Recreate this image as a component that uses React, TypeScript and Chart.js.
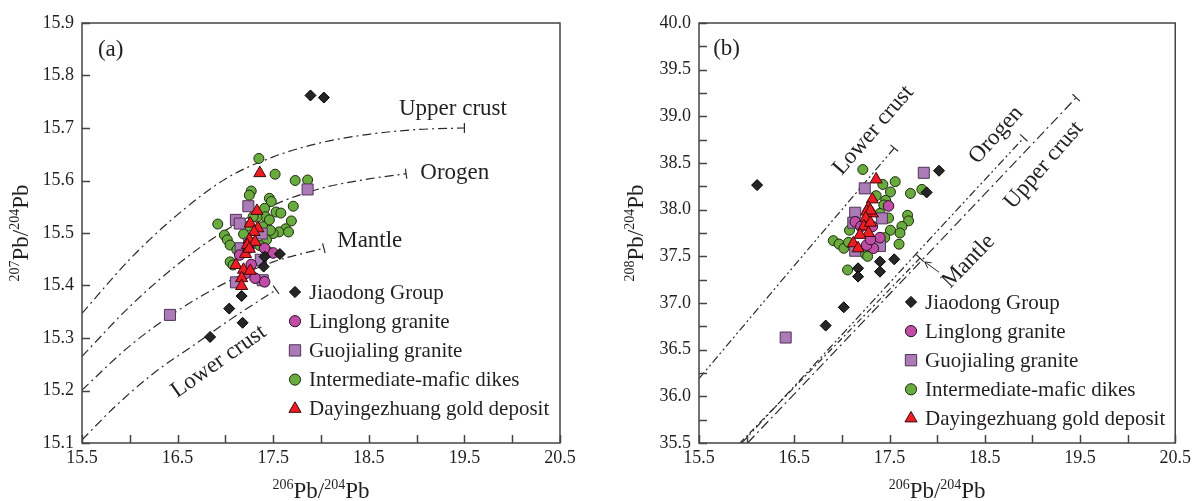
import React, { useEffect, useRef } from 'react';
import { Chart, registerables } from 'chart.js';

Chart.register(...registerables);

const FONT = '"Liberation Serif", "Times New Roman", Times, serif';
const INK = '#231f20';
const AXIS = '#444444';

// ---------------- Panel (a): 207Pb/204Pb vs 206Pb/204Pb ----------------
const jiaodongA = [[17.89,15.762],[18.03,15.758],[17.57,15.46],[17.40,15.436],[17.41,15.455],[17.17,15.38],[17.04,15.356],[17.18,15.329],[16.84,15.302]];
const linglongA = [[17.50,15.462],[17.41,15.407],[17.31,15.414],[17.15,15.458],[17.21,15.423],[17.41,15.471],[17.24,15.471],[17.27,15.44]];
const guojialingA = [[16.42,15.344],[17.11,15.525],[17.15,15.518],[17.24,15.551],[17.86,15.583],[17.38,15.499],[17.11,15.406],[17.37,15.449],[17.16,15.471],[17.39,15.41],[17.25,15.48]];
const dikesA = [[17.35,15.642],[17.52,15.612],[17.73,15.600],[17.86,15.601],[17.27,15.580],[17.25,15.572],[17.46,15.566],[17.48,15.560],[17.71,15.551],[17.41,15.547],[17.53,15.540],[17.42,15.531],[17.33,15.530],[17.46,15.525],[17.69,15.523],[16.92,15.517],[17.39,15.512],[17.24,15.513],[17.63,15.508],[17.56,15.502],[17.66,15.502],[16.99,15.496],[17.50,15.499],[17.19,15.498],[17.02,15.487],[17.43,15.487],[17.05,15.477],[17.36,15.476],[17.12,15.468],[17.45,15.464],[17.05,15.445],[17.08,15.439],[17.58,15.538],[17.29,15.531],[17.47,15.505]];
const goldA = [[17.36,15.614],[17.33,15.542],[17.26,15.518],[17.34,15.509],[17.30,15.502],[17.25,15.487],[17.31,15.483],[17.23,15.477],[17.21,15.460],[17.25,15.470],[17.11,15.439],[17.19,15.430],[17.26,15.428],[17.17,15.414],[17.17,15.399]];

const upperCrustA = [[15.5,15.347],[16.0,15.45],[16.5,15.535],[17.0,15.603],[17.5,15.645],[18.0,15.672],[18.5,15.688],[19.0,15.697],[19.5,15.70]];
const orogenA = [[15.5,15.265],[16.0,15.36],[16.5,15.44],[17.0,15.505],[17.5,15.553],[18.0,15.585],[18.5,15.603],[18.89,15.613]];
const mantleA = [[15.5,15.201],[16.0,15.285],[16.5,15.352],[17.0,15.405],[17.5,15.445],[18.03,15.471]];
const lowerCrustA = [[15.5,15.106],[15.85,15.17],[16.25,15.233],[16.65,15.284],[17.05,15.335],[17.53,15.392]];

// ---------------- Panel (b): 208Pb/204Pb vs 206Pb/204Pb ----------------
const jiaodongB = [[16.11,38.263],[18.02,38.417],[17.89,38.185],[17.17,37.372],[17.17,37.283],[17.40,37.443],[17.40,37.336],[17.55,37.468],[17.02,36.954],[16.83,36.758]];
const linglongB = [[17.49,38.04],[17.40,37.70],[17.33,37.586],[17.26,37.62],[17.14,37.87],[17.20,37.82],[17.32,37.82],[17.30,37.68]];
const guojialingB = [[17.86,38.395],[17.24,38.228],[17.14,37.967],[17.12,37.86],[17.42,37.907],[17.40,37.61],[17.14,37.56],[16.41,36.63]];
const dikesB = [[17.22,38.43],[17.56,38.30],[17.72,38.174],[17.84,38.217],[17.51,38.19],[17.43,38.27],[17.46,38.10],[17.44,38.05],[17.49,37.91],[17.69,37.94],[17.70,37.88],[17.63,37.82],[17.61,37.75],[17.60,37.63],[17.51,37.78],[16.91,37.668],[16.97,37.632],[17.02,37.586],[17.07,37.65],[17.24,37.53],[17.27,37.50],[17.06,37.354],[17.36,38.15],[17.40,37.96],[17.08,37.78],[17.45,37.70]];
const goldB = [[17.36,38.324],[17.32,38.11],[17.28,38.02],[17.26,37.98],[17.32,37.96],[17.30,37.99],[17.25,37.91],[17.23,37.82],[17.28,37.75],[17.19,37.73],[17.12,37.64],[17.17,37.586],[17.30,37.86]];

const lowerCrustB = [[15.5,36.19],[16.5,37.4],[17.55,38.66]];
const orogenB = [[15.95,35.5],[17.0,36.66],[18.0,37.77],[18.91,38.77]];
const mantleB = [[15.93,35.5],[17.0,36.62],[17.82,37.48]];
const upperCrustB = [[16.01,35.5],[17.0,36.56],[18.0,37.63],[19.46,39.2]];

// ---------------- Series styles ----------------
type Series = { label: string; style: string; fill: string; stroke: string; r: number };
const SERIES: Series[] = [
  { label: 'Jiaodong Group', style: 'rectRot', fill: '#262626', stroke: '#000000', r: 5.5 },
  { label: 'Linglong granite', style: 'circle', fill: '#c04ea6', stroke: '#2a1025', r: 5.3 },
  { label: 'Guojialing granite', style: 'rect', fill: '#ab7bb7', stroke: '#4f3456', r: 7.8 },
  { label: 'Intermediate-mafic dikes', style: 'circle', fill: '#6aab3e', stroke: '#1c2a12', r: 5 },
  { label: 'Dayingezhuang gold deposit', style: 'triangle', fill: '#ee1c25', stroke: '#3b0b0b', r: 7 },
];

const toXY = (arr: number[][]) => arr.map(([x, y]) => ({ x, y }));

function markerDataset(s: Series, data: number[][], order: number) {
  return {
    label: s.label,
    data: toXY(data),
    pointStyle: s.style,
    pointRadius: s.r,
    pointBackgroundColor: s.fill,
    pointBorderColor: s.stroke,
    pointBorderWidth: 1,
    showLine: false,
    order,
  };
}

function curveDataset(label: string, data: number[][], dash: number[], endRot: number) {
  const n = data.length;
  return {
    label,
    data: toXY(data),
    showLine: true,
    borderColor: '#2a2a2a',
    borderWidth: 1.2,
    borderDash: dash,
    fill: false,
    cubicInterpolationMode: 'monotone',
    pointStyle: 'line',
    pointRadius: (c: any) => (c.dataIndex === n - 1 ? 5 : 0),
    pointRotation: endRot,
    pointBorderColor: '#2a2a2a',
    pointBorderWidth: 1.2,
    pointBackgroundColor: '#2a2a2a',
    order: 20,
  };
}

function drawMarker(ctx: CanvasRenderingContext2D, s: Series, x: number, y: number) {
  const r = s.r;
  ctx.beginPath();
  if (s.style === 'circle') {
    ctx.arc(x, y, r, 0, Math.PI * 2);
  } else if (s.style === 'rect') {
    const h = r * Math.SQRT1_2;
    ctx.rect(x - h, y - h, 2 * h, 2 * h);
  } else if (s.style === 'rectRot') {
    ctx.moveTo(x, y - r); ctx.lineTo(x + r, y); ctx.lineTo(x, y + r); ctx.lineTo(x - r, y); ctx.closePath();
  } else if (s.style === 'triangle') {
    for (let i = 0; i < 3; i++) {
      const a = (i * 2 * Math.PI) / 3;
      const px = x + Math.sin(a) * r, py = y - Math.cos(a) * r;
      if (i === 0) ctx.moveTo(px, py); else ctx.lineTo(px, py);
    }
    ctx.closePath();
  }
  ctx.fillStyle = s.fill; ctx.fill();
  ctx.lineWidth = 1; ctx.strokeStyle = s.stroke; ctx.stroke();
}

type Part = { t: string; sup?: boolean };
function drawRich(ctx: CanvasRenderingContext2D, parts: Part[], cx: number, cy: number, angle: number) {
  const big = `23px ${FONT}`, small = `14px ${FONT}`;
  let total = 0;
  const widths = parts.map((p) => { ctx.font = p.sup ? small : big; const w = ctx.measureText(p.t).width; total += w; return w; });
  ctx.save();
  ctx.translate(cx, cy);
  ctx.rotate(angle);
  ctx.fillStyle = INK;
  ctx.textBaseline = 'alphabetic';
  ctx.textAlign = 'left';
  let x = -total / 2;
  parts.forEach((p, i) => {
    ctx.font = p.sup ? small : big;
    ctx.fillText(p.t, x, p.sup ? -9 : 0);
    x += widths[i];
  });
  ctx.restore();
}

const framePlugin = {
  id: 'frame',
  afterDatasetsDraw(chart: any, _args: any, opts: any) {
    const { ctx, chartArea: a, scales } = chart;
    const xs = scales.x, ys = scales.y;
    ctx.save();
    // inward tick marks
    ctx.strokeStyle = AXIS; ctx.lineWidth = 1.5; ctx.setLineDash([]);
    ctx.beginPath();
    xs.ticks.forEach((t: any) => { const px = Math.round(xs.getPixelForValue(t.value)) + 0.5; ctx.moveTo(px, a.bottom); ctx.lineTo(px, a.bottom - 8); });
    ys.ticks.forEach((t: any) => { const py = Math.round(ys.getPixelForValue(t.value)) + 0.5; ctx.moveTo(a.left, py); ctx.lineTo(a.left + 8, py); });
    ctx.stroke();
    ctx.strokeRect(a.left, a.top, a.right - a.left, a.bottom - a.top);

    // annotations
    ctx.fillStyle = INK;
    ctx.textAlign = 'center'; ctx.textBaseline = 'middle';
    (opts.notes || []).forEach((n: any) => {
      ctx.save();
      ctx.font = `${n.size || 23}px ${FONT}`;
      ctx.translate(xs.getPixelForValue(n.x), ys.getPixelForValue(n.y));
      ctx.rotate((n.rot * Math.PI) / 180);
      ctx.fillText(n.text, 0, 0);
      ctx.restore();
    });

    // leader arrow
    if (opts.arrow) {
      const [x0, y0, x1, y1] = opts.arrow;
      const p0 = [xs.getPixelForValue(x0), ys.getPixelForValue(y0)];
      const p1 = [xs.getPixelForValue(x1), ys.getPixelForValue(y1)];
      ctx.strokeStyle = '#2a2a2a'; ctx.lineWidth = 1;
      ctx.beginPath(); ctx.moveTo(p0[0], p0[1]); ctx.lineTo(p1[0], p1[1]); ctx.stroke();
      const ang = Math.atan2(p1[1] - p0[1], p1[0] - p0[0]);
      ctx.beginPath();
      ctx.moveTo(p1[0] - 7 * Math.cos(ang - 0.5), p1[1] - 7 * Math.sin(ang - 0.5));
      ctx.lineTo(p1[0], p1[1]);
      ctx.lineTo(p1[0] - 7 * Math.cos(ang + 0.5), p1[1] - 7 * Math.sin(ang + 0.5));
      ctx.stroke();
    }

    // legend
    const lg = opts.legend;
    SERIES.forEach((s, i) => {
      const mx = a.left + lg.dx, my = a.top + lg.dy + i * lg.gap;
      drawMarker(ctx, { ...s, r: s.style === 'rect' ? 8 : s.style === 'triangle' ? 7 : 5.6 }, mx, my);
      ctx.fillStyle = INK;
      ctx.font = `21px ${FONT}`;
      ctx.textAlign = 'left'; ctx.textBaseline = 'middle';
      ctx.fillText(s.label, mx + 14, my + 1);
    });

    // axis titles
    drawRich(ctx, opts.xTitle, (a.left + a.right) / 2, a.bottom + 55, 0);
    drawRich(ctx, opts.yTitle, a.left - opts.yTitleGap, (a.top + a.bottom) / 2, -Math.PI / 2);
    ctx.restore();
  },
};

const xTitle: Part[] = [{ t: '206', sup: true }, { t: 'Pb/' }, { t: '204', sup: true }, { t: 'Pb' }];
const yTitleA: Part[] = [{ t: '207', sup: true }, { t: 'Pb/' }, { t: '204', sup: true }, { t: 'Pb' }];
const yTitleB: Part[] = [{ t: '208', sup: true }, { t: 'Pb/' }, { t: '204', sup: true }, { t: 'Pb' }];

const xLabel = (v: any) => {
  const d = Number(v) - 15.5;
  return Math.abs(d - Math.round(d)) < 1e-6 ? Number(v).toFixed(1) : '';
};

function baseOptions(yMin: number, yMax: number, yStep: number, yCb: (v: any) => string, yWidth: number, padRight: number, plug: any) {
  return {
    responsive: false,
    animation: false,
    events: [],
    layout: { padding: { top: 23, right: padRight, left: 0, bottom: 0 } },
    plugins: { legend: { display: false }, tooltip: { enabled: false }, frame: plug },
    scales: {
      x: {
        type: 'linear', min: 15.5, max: 20.5,
        ticks: { stepSize: 0.5, autoSkip: false, maxRotation: 0, padding: 4, color: INK, font: { family: FONT, size: 18 }, callback: xLabel },
        grid: { display: false, drawTicks: false },
        border: { display: false },
        afterFit: (s: any) => { s.height = 58; },
      },
      y: {
        type: 'linear', min: yMin, max: yMax,
        ticks: { stepSize: yStep, autoSkip: false, padding: 8, color: INK, font: { family: FONT, size: 18 }, callback: yCb },
        grid: { display: false, drawTicks: false },
        border: { display: false },
        afterFit: (s: any) => { s.width = yWidth; },
      },
    },
  };
}

function configA() {
  return {
    type: 'scatter',
    data: {
      datasets: [
        markerDataset(SERIES[4], goldA, 0),
        markerDataset(SERIES[0], jiaodongA, 1),
        markerDataset(SERIES[1], linglongA, 2),
        markerDataset(SERIES[2], guojialingA, 3),
        markerDataset(SERIES[3], dikesA, 4),
        curveDataset('Upper crust', upperCrustA, [9, 4, 2, 4], 90),
        curveDataset('Orogen', orogenA, [9, 4, 2, 4], 82),
        curveDataset('Mantle', mantleA, [9, 4, 2, 4], 75),
        curveDataset('Lower crust', lowerCrustA, [9, 4, 2, 4], 55),
      ],
    },
    options: baseOptions(15.1, 15.9, 0.1, (v: any) => Number(v).toFixed(1), 82, 37, {
      notes: [
        { text: '(a)', x: 15.8, y: 15.849 },
        { text: 'Upper crust', x: 19.38, y: 15.736, rot: 0 },
        { text: 'Orogen', x: 19.4, y: 15.614, rot: 0 },
        { text: 'Mantle', x: 18.51, y: 15.485, rot: 0 },
        { text: 'Lower crust', x: 16.93, y: 15.255, rot: -35 },
      ].map((n) => ({ rot: 0, ...n })),
      legend: { dx: 213, dy: 269, gap: 29.2 },
      xTitle, yTitle: yTitleA, yTitleGap: 54,
    }),
    plugins: [framePlugin],
  };
}

function configB() {
  return {
    type: 'scatter',
    data: {
      datasets: [
        markerDataset(SERIES[4], goldB, 0),
        markerDataset(SERIES[1], linglongB, 1),
        markerDataset(SERIES[2], guojialingB, 2),
        markerDataset(SERIES[0], jiaodongB, 3),
        markerDataset(SERIES[3], dikesB, 4),
        curveDataset('Lower crust', lowerCrustB, [8, 3, 2, 3, 2, 3], 40),
        curveDataset('Orogen', orogenB, [8, 3, 2, 3, 2, 3], 43),
        curveDataset('Mantle', mantleB, [6, 3, 2, 3], 44),
        curveDataset('Upper crust', upperCrustB, [10, 4, 2, 4], 43),
      ],
    },
    options: baseOptions(35.5, 40.0, 0.25, (v: any) => {
      const n = Number(v) * 2;
      return Math.abs(n - Math.round(n)) < 1e-6 ? Number(v).toFixed(1) : '';
    }, 102, 17, {
      notes: [
        { text: '(b)', x: 15.79, y: 39.725, rot: 0 },
        { text: 'Lower crust', x: 17.33, y: 38.85, rot: -49 },
        { text: 'Orogen', x: 18.62, y: 38.8, rot: -48 },
        { text: 'Upper crust', x: 19.12, y: 38.475, rot: -49 },
        { text: 'Mantle', x: 18.33, y: 37.445, rot: -46 },
      ],
      arrow: [18.02, 37.33, 17.87, 37.44],
      legend: { dx: 212, dy: 279, gap: 29.1 },
      xTitle, yTitle: yTitleB, yTitleGap: 56,
    }),
    plugins: [framePlugin],
  };
}

function ChartCanvas({ make, left, width }: { make: () => any; left: number; width: number }) {
  const ref = useRef<HTMLCanvasElement | null>(null);
  useEffect(() => {
    if (!ref.current) return;
    const chart = new Chart(ref.current, make());
    return () => chart.destroy();
  }, [make]);
  return (
    <canvas
      ref={ref}
      width={width}
      height={501}
      style={{ position: 'absolute', left, top: 0, width, height: 501, display: 'block' }}
    />
  );
}

export default function App() {
  return (
    <div style={{ position: 'absolute', left: 0, top: 0, width: 1195, height: 501, background: '#fff', overflow: 'hidden' }}>
      <ChartCanvas make={configA} left={0} width={597} />
      <ChartCanvas make={configB} left={597} width={598} />
    </div>
  );
}
